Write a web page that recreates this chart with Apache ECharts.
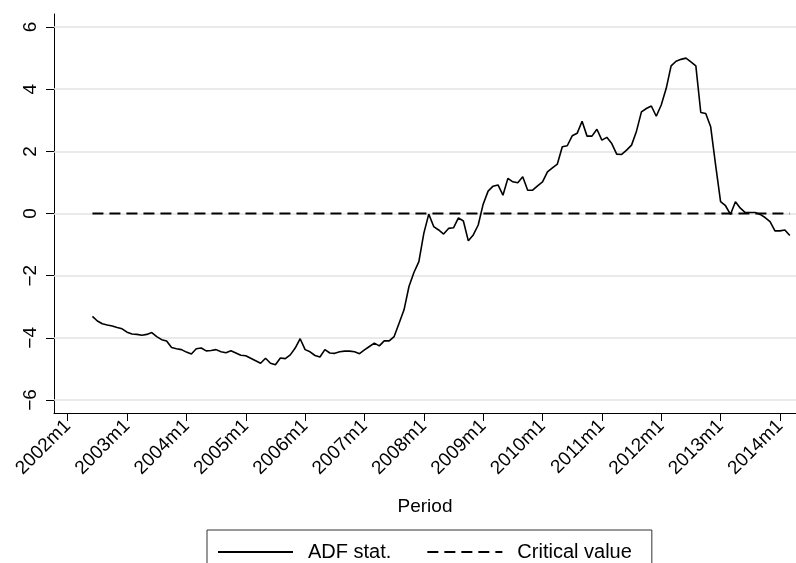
<!DOCTYPE html>
<html>
<head>
<meta charset="utf-8">
<script src="https://cdn.jsdelivr.net/npm/echarts@6/dist/echarts.min.js"></script>
<style>
html, body { margin: 0; padding: 0; background: #fff; }
#chart { width: 796px; height: 563px; }
</style>
</head>
<body>
<div id="chart"></div>
<script>
// monthly ADF statistic, first observation 2002m6
var firstPeriod = '2002m6';
var adfStat = [
    -3.31, -3.46, -3.55, -3.59, -3.62, -3.67, -3.71,                   // 2002m6-2002m12
    -3.82, -3.88, -3.89, -3.92, -3.89, -3.83, -3.96, -4.06, -4.10, -4.31, -4.35, -4.38, // 2003
    -4.46, -4.52, -4.35, -4.33, -4.42, -4.41, -4.38, -4.45, -4.48, -4.42, -4.49, -4.56, // 2004
    -4.58, -4.66, -4.74, -4.82, -4.66, -4.82, -4.87, -4.65, -4.67, -4.55, -4.33, -4.03, // 2005
    -4.38, -4.45, -4.57, -4.62, -4.38, -4.49, -4.50, -4.45, -4.43, -4.43, -4.45, -4.51, // 2006
    -4.39, -4.28, -4.17, -4.26, -4.10, -4.10, -3.96, -3.53, -3.10, -2.35, -1.90, -1.55, // 2007
    -0.64, -0.02, -0.42, -0.53, -0.66, -0.48, -0.46, -0.14, -0.24, -0.88, -0.69, -0.37, // 2008
    0.30, 0.72, 0.88, 0.92, 0.59, 1.13, 1.02, 0.99, 1.18, 0.75, 0.75, 0.89,             // 2009
    1.02, 1.34, 1.47, 1.59, 2.15, 2.18, 2.50, 2.58, 2.97, 2.49, 2.49, 2.71,             // 2010
    2.36, 2.45, 2.25, 1.91, 1.90, 2.04, 2.20, 2.65, 3.27, 3.38, 3.46, 3.13,             // 2011
    3.49, 4.02, 4.75, 4.90, 4.96, 5.00, 4.88, 4.75, 3.25, 3.22, 2.79, 1.56,             // 2012
    0.38, 0.25, -0.03, 0.38, 0.17, 0.03, 0.03, 0.03, -0.03, -0.13, -0.26, -0.56,        // 2013
    -0.56, -0.53, -0.71                                                                  // 2014m1-2014m3
];
var criticalValue = 0;
var xTickLabels = ['2002m1', '2003m1', '2004m1', '2005m1', '2006m1', '2007m1', '2008m1',
    '2009m1', '2010m1', '2011m1', '2012m1', '2013m1', '2014m1'];
var yTickValues = [-6, -4, -2, 0, 2, 4, 6];

function periodIndex(p) {
    var parts = p.split('m');
    return (parseInt(parts[0], 10) - 2002) * 12 + parseInt(parts[1], 10) - 1;
}
function indexPeriod(i) {
    return (2002 + Math.floor(i / 12)) + 'm' + (i % 12 + 1);
}

var start = periodIndex(firstPeriod);
var periods = adfStat.map(function (v, i) { return indexPeriod(start + i); });
var adfData = periods.map(function (p, i) { return [periodIndex(p), adfStat[i]]; });
var critData = periods.map(function (p) { return [periodIndex(p), criticalValue]; });
var xTickValues = xTickLabels.map(periodIndex);

var font = 'Liberation Sans, Arial, Helvetica, sans-serif';

var myChart = echarts.init(document.getElementById('chart'));
var option = {
    animation: false,
    backgroundColor: '#fff',
    textStyle: { fontFamily: font },
    grid: { left: 54, right: 0, top: 14, bottom: 150 },
    legend: {
        data: ['ADF stat.', 'Critical value'],
        left: 207,
        top: 530,
        padding: [12, 20, 30, 10],
        itemWidth: 75,
        itemHeight: 19,
        itemGap: 35,
        borderColor: '#333',
        borderWidth: 1,
        borderRadius: 0,
        itemStyle: { opacity: 0 },
        textStyle: { fontSize: 20, color: '#000', fontFamily: font, padding: [0, 0, 0, 10] }
    },
    xAxis: {
        type: 'value',
        min: -2.77,
        max: 147.25,
        name: 'Period',
        nameLocation: 'middle',
        nameGap: 84,
        nameTextStyle: { fontSize: 19, color: '#000', fontFamily: font },
        axisLine: { show: true, onZero: false, lineStyle: { color: '#000', width: 1 } },
        axisTick: { show: true, customValues: xTickValues, length: 8, lineStyle: { color: '#000', width: 1 } },
        axisLabel: {
            customValues: xTickValues,
            rotate: 45,
            margin: 10,
            fontSize: 19,
            color: '#000',
            fontFamily: font,
            formatter: function (v) { return indexPeriod(Math.round(v)); }
        },
        splitLine: { show: false }
    },
    yAxis: {
        type: 'value',
        min: -6.42,
        max: 6.42,
        axisLine: { show: true, onZero: false, lineStyle: { color: '#000', width: 1 } },
        axisTick: { show: true, customValues: yTickValues, length: 8, lineStyle: { color: '#000', width: 1 } },
        axisLabel: {
            customValues: yTickValues,
            rotate: 90,
            margin: 14,
            fontSize: 19,
            color: '#000',
            fontFamily: font,
            formatter: function (v) { return v < 0 ? '\u2212' + Math.abs(v) : String(v); }
        },
        splitLine: { show: false }
    },
    series: [
        {
            name: 'gridlines',
            type: 'line',
            data: [],
            z: 1,
            silent: true,
            markLine: {
                z: 1,
                silent: true,
                symbol: 'none',
                label: { show: false },
                lineStyle: { color: '#e3e3e3', width: 1.5, type: 'solid' },
                data: yTickValues.map(function (v) { return { yAxis: v }; })
            }
        },
        {
            name: 'Critical value',
            type: 'line',
            data: critData,
            z: 8,
            symbol: 'none',
            lineStyle: { color: '#000', width: 1.8, type: [11, 6] },
            itemStyle: { color: '#000' }
        },
        {
            name: 'ADF stat.',
            type: 'line',
            data: adfData,
            z: 9,
            symbol: 'none',
            lineStyle: { color: '#000', width: 1.6 },
            itemStyle: { color: '#000' }
        }
    ]
};
myChart.setOption(option);
</script>
</body>
</html>
